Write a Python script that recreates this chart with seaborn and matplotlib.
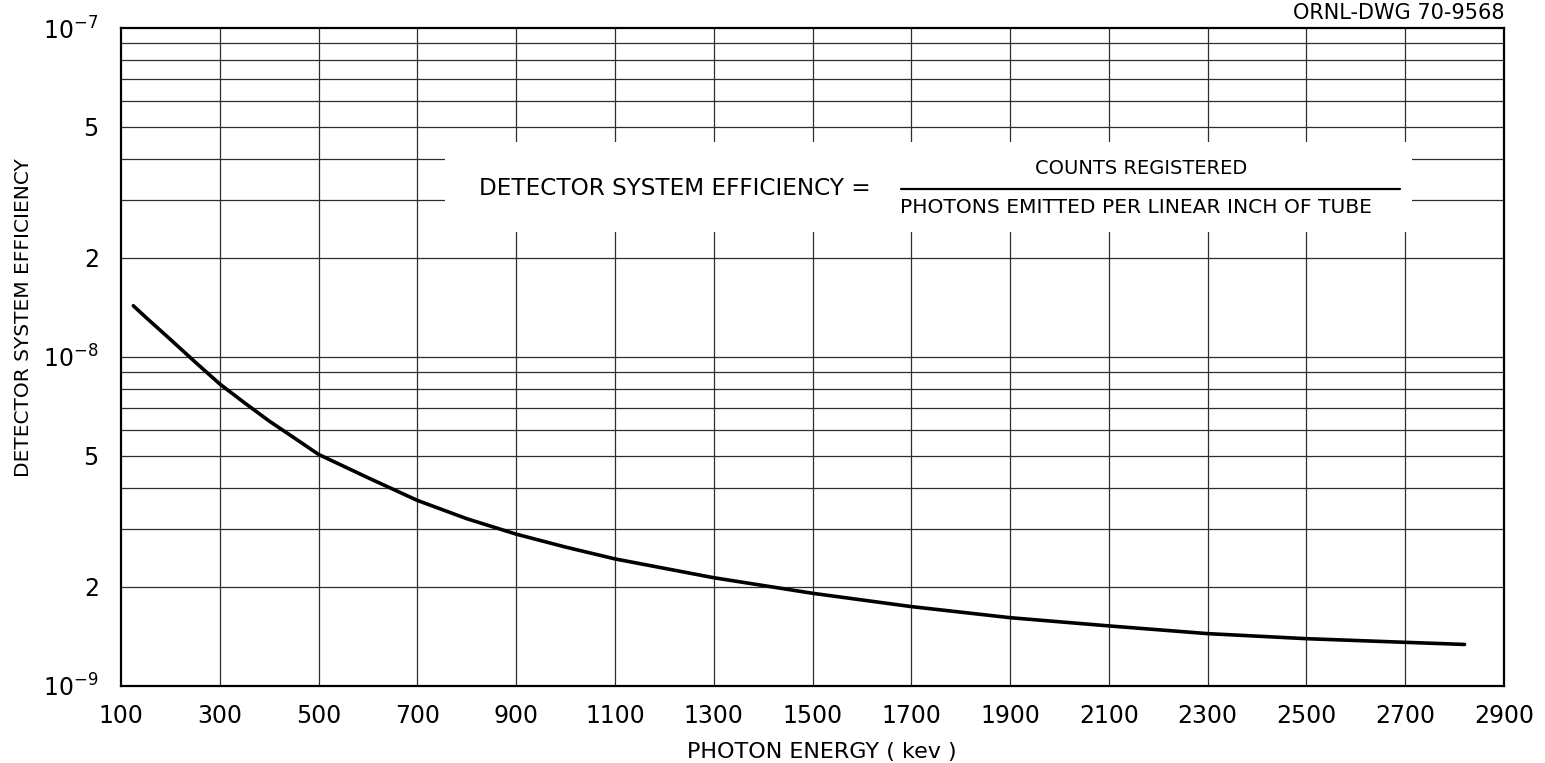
import matplotlib
matplotlib.use("Agg")
import matplotlib.pyplot as plt
import matplotlib.ticker as mticker
from matplotlib.patches import Rectangle
import pandas as pd
import seaborn as sns

# Detector efficiency vs photon energy
energy_kev = [125, 150, 200, 250, 300, 350, 400, 450, 500, 600, 700, 800,
              900, 1000, 1100, 1300, 1500, 1700, 1900, 2100, 2300, 2500,
              2700, 2820]
efficiency = [1.43e-8, 1.32e-8, 1.13e-8, 9.65e-9, 8.27e-9, 7.25e-9, 6.38e-9,
              5.68e-9, 5.05e-9, 4.29e-9, 3.66e-9, 3.22e-9, 2.89e-9, 2.64e-9,
              2.43e-9, 2.13e-9, 1.91e-9, 1.74e-9, 1.61e-9, 1.52e-9, 1.44e-9,
              1.39e-9, 1.355e-9, 1.335e-9]

x_ticks = [100, 300, 500, 700, 900, 1100, 1300, 1500, 1700, 1900, 2100,
           2300, 2500, 2700, 2900]
y_ticks = [1e-9, 2e-9, 5e-9, 1e-8, 2e-8, 5e-8, 1e-7]
y_tick_labels = [r"$10^{-9}$", "2", "5", r"$10^{-8}$", "2", "5", r"$10^{-7}$"]

sns.set_theme(style="white")
plt.rcParams["font.family"] = ["DejaVu Sans"]
plt.rcParams["text.color"] = "black"
plt.rcParams["axes.labelcolor"] = "black"

fig = plt.figure(figsize=(15.45, 7.63), dpi=100)
ax = fig.add_axes([0.0783, 0.1013, 0.8952, 0.862])

df = pd.DataFrame({"energy": energy_kev, "eff": efficiency})
sns.lineplot(data=df, x="energy", y="eff", ax=ax, color="black",
             linewidth=2.6, zorder=5)

ax.set_yscale("log")
ax.set_xlim(100, 2900)
ax.set_ylim(1e-9, 1e-7)

# Grid: vertical lines every 200 keV, horizontal at every 1..9 of each decade
grid_kw = dict(color="#2e2e2e", linewidth=0.9, zorder=1)
for xv in x_ticks[1:-1]:
    ax.axvline(xv, **grid_kw)
for dec in [1e-9, 1e-8]:
    for m in range(2, 10):
        ax.axhline(m * dec, **grid_kw)
ax.axhline(1e-8, **grid_kw)

# Blank panel behind the definition
ax.add_patch(Rectangle((756, 2.39e-8), 2714 - 756, 4.5e-8 - 2.39e-8,
                       facecolor="white", edgecolor="none", zorder=2))

ax.xaxis.set_major_locator(mticker.FixedLocator(x_ticks))
ax.xaxis.set_major_formatter(mticker.FixedFormatter([str(v) for v in x_ticks]))
ax.yaxis.set_major_locator(mticker.FixedLocator(y_ticks))
ax.yaxis.set_major_formatter(mticker.FixedFormatter(y_tick_labels))
ax.yaxis.set_minor_locator(mticker.NullLocator())
ax.tick_params(axis="both", length=0, labelsize=17, colors="black")
ax.tick_params(axis="x", pad=13)
ax.tick_params(axis="y", pad=16)

for sp in ax.spines.values():
    sp.set_color("black")
    sp.set_linewidth(1.6)
    sp.set_zorder(6)

ax.set_xlabel("PHOTON ENERGY ( kev )", fontsize=16, color="black")
ax.xaxis.set_label_coords(0.507, -0.085)
ax.set_ylabel("DETECTOR SYSTEM EFFICIENCY", fontsize=14.5, color="black")
ax.yaxis.set_label_coords(-0.0634, 0.56)

# Definition of efficiency
ax.text(1618, 3.25e-8, "DETECTOR SYSTEM EFFICIENCY =", fontsize=16.7,
        ha="right", va="center", zorder=4, color="black")
ax.text(2165, 3.75e-8, "COUNTS REGISTERED", fontsize=14,
        ha="center", va="center", zorder=4, color="black")
ax.plot([1679, 2690], [3.25e-8, 3.25e-8], color="black",
        linewidth=1.6, zorder=4)
ax.text(1677, 2.84e-8, "PHOTONS EMITTED PER LINEAR INCH OF TUBE",
        fontsize=14.6, ha="left", va="center", zorder=4, color="black")

fig.text(0.974, 0.996, "ORNL-DWG 70-9568", fontsize=15, ha="right",
         va="top", color="black")

fig.savefig("out.png", dpi=100, facecolor="white")
